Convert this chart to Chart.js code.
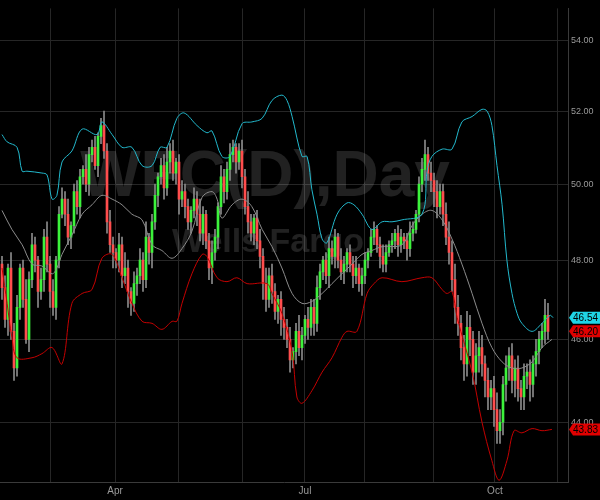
<!DOCTYPE html>
<html><head><meta charset="utf-8">
<script src="https://cdn.jsdelivr.net/npm/chart.js@4"></script>
<style>html,body{margin:0;padding:0;background:#000}#w{width:600px;height:500px}</style>
</head><body><div id="w"><canvas id="c" width="600" height="500"></canvas></div>
<script>
// Daily candles (trading-day index 0..182)
const opens = [
47.9,47.3,46.5,47.8,46.2, 45.3,46.8,47.8,47.0,46.0, 47.5,48.4,48.0,47.2,47.5, 48.6,47.9,47.2,46.8,48.0,
49.2,49.6,49.2,48.6,48.9, 49.8,49.4,50.2,50.4,50.0, 50.8,51.0,50.5,51.3,51.6, 50.9,49.0,48.4,48.2,48.0,
48.4,47.6,47.8,47.2,46.9, 47.4,47.6,48.0,47.5,48.6, 48.2,49.0,49.7,50.2,50.5, 49.9,50.6,50.9,50.3,50.6,
49.6,49.8,49.4,49.0,49.3, 49.6,49.2,48.7,49.2,48.5, 47.8,48.2,48.6,49.4,50.2, 49.8,50.4,50.8,51.0,50.6,
50.9,50.2,49.4,49.0,48.7, 49.1,48.5,48.1,47.4,47.0, 47.6,47.2,46.7,47.0,46.5, 46.3,46.0,45.5,45.7,46.2,
45.8,46.1,46.5,46.3,46.8, 46.4,47.3,47.7,48.0,47.6, 48.3,48.1,48.6,48.0,47.7, 47.9,48.2,47.9,47.6,47.8,
47.4,47.6,48.0,48.2,48.6, 48.8,48.4,48.1,47.9,48.2, 48.4,48.5,48.7,48.4,48.6, 48.5,48.3,48.7,48.8,49.2,
50.0,50.4,50.8,50.3,50.1, 49.8,49.4,49.8,49.2,48.6, 48.2,47.5,46.8,46.4,45.8, 45.4,46.3,46.0,45.2,45.6,
45.8,45.4,45.0,44.6,44.8, 44.3,43.8,44.0,44.9,45.3, 45.6,45.0,45.3,44.8,44.6, 45.1,45.2,44.9,45.4,45.7,
46.0,46.2,46.6];
const closes = [
47.3,46.5,47.8,46.2,45.3, 46.8,47.8,47.0,46.0,47.5, 48.4,48.0,47.2,47.5,48.6, 47.9,47.2,46.8,48.0,49.2,
49.6,49.2,48.6,48.9,49.8, 49.4,50.2,50.4,50.0,50.8, 51.0,50.5,51.3,51.6,50.9, 49.0,48.4,48.2,48.0,48.4,
47.6,47.8,47.2,46.9,47.4, 47.6,48.0,47.5,48.6,48.2, 49.0,49.7,50.2,50.5,49.9, 50.6,50.9,50.3,50.6,49.6,
49.8,49.4,49.0,49.3,49.6, 49.2,48.7,49.2,48.5,47.8, 48.2,48.6,49.4,50.2,49.8, 50.4,50.8,51.0,50.6,50.9,
50.2,49.4,49.0,48.7,49.1, 48.5,48.1,47.4,47.0,47.6, 47.2,46.7,47.0,46.5,46.3, 46.0,45.5,45.7,46.2,45.8,
46.1,46.5,46.3,46.8,46.4, 47.3,47.7,48.0,47.6,48.3, 48.1,48.6,48.0,47.7,47.9, 48.2,47.9,47.6,47.8,47.4,
47.6,48.0,48.2,48.6,48.8, 48.4,48.1,47.9,48.2,48.4, 48.5,48.7,48.4,48.6,48.5, 48.3,48.7,48.8,49.2,50.0,
50.4,50.8,50.3,50.1,49.8, 49.4,49.8,49.2,48.6,48.2, 47.5,46.8,46.4,45.8,45.4, 46.3,46.0,45.2,45.6,45.8,
45.4,45.0,44.6,44.8,44.3, 43.8,44.0,44.9,45.3,45.6, 45.0,45.3,44.8,44.6,45.1, 45.2,44.9,45.4,45.7,46.0,
46.2,46.6,46.2];
const wickHi = [
.2,.3,.1,.4,.2, .3,.1,.2,.5,.2, .3,.2,.1,.3,.2, .4,.2,.3,.1,.2, .3,.2,.4,.1,.2, .3,.2,.1,.4,.2,
.2,.3,.1,.2,.4, .2,.3,.2,.1,.3, .2,.4,.2,.1,.3, .2,.3,.2,.4,.1, .2,.3,.1,.2,.3, .4,.2,.3,.1,.2,
.3,.2,.2,.1,.3, .2,.4,.2,.1,.2, .3,.2,.1,.3,.2, .2,.3,.2,.1,.2, .3,.2,.4,.2,.1, .2,.3,.2,.4,.2,
.3,.2,.1,.2,.3, .2,.3,.1,.2,.4, .2,.1,.3,.2,.2, .3,.2,.1,.2,.3, .2,.2,.1,.3,.2, .1,.2,.2,.3,.1,
.2,.2,.1,.2,.2, .1,.2,.3,.2,.1, .2,.1,.2,.2,.1, .2,.3,.2,.1,.2, .3,.4,.2,.3,.2, .3,.2,.2,.3,.4,
.3,.4,.3,.2,.3, .4,.3,.2,.3,.4, .3,.2,.3,.2,.3, .4,.3,.2,.3,.2, .3,.2,.3,.2,.3, .2,.3,.2,.3,.2,
.2,.4,.3];
const wickLo = [
.3,.2,.4,.2,.3, .2,.3,.2,.1,.3, .2,.3,.4,.2,.3, .2,.4,.2,.3,.2, .1,.3,.2,.3,.2, .2,.3,.2,.2,.3,
.2,.1,.3,.2,.2, .3,.2,.4,.2,.3, .3,.2,.4,.3,.2, .3,.2,.3,.2,.3, .4,.2,.3,.2,.3, .2,.3,.2,.3,.4,
.2,.3,.2,.3,.2, .3,.2,.3,.2,.3, .4,.2,.3,.2,.3, .2,.3,.2,.3,.2, .3,.2,.3,.2,.3, .2,.3,.4,.3,.2,
.3,.2,.3,.4,.3, .2,.3,.2,.3,.2, .3,.2,.3,.2,.3, .2,.3,.2,.2,.3, .2,.3,.2,.2,.3, .2,.2,.3,.2,.2,
.3,.2,.2,.1,.2, .2,.3,.2,.2,.1, .2,.2,.3,.2,.2, .3,.2,.2,.1,.2, .2,.3,.2,.3,.4, .3,.2,.3,.2,.3,
.3,.4,.3,.3,.4, .3,.4,.3,.3,.4, .3,.4,.3,.3,.4, .3,.3,.3,.4,.3, .3,.4,.3,.3,.3, .3,.4,.3,.3,.3,
.2,.3,.2];
// Bollinger bands (day index, price)
const upperDays = [0,1.7,5,6.7,8.3,13.3,15,16.7,18.3,20,23.3,26.7,31.7,33.3,36.7,40,43.3,46.7,50,52.7,55,58.3,60.7,65,68.3,70,73.3,76,80,83.3,86.7,90,93.3,95,96.7,100,101.7,103.3,105,106.7,108.3,111.7,115,117.3,120,123.3,126.7,130,133.3,140,141.7,143.3,146.7,150,153.3,156.7,160,161.7,163.3,165,166.7,168.3,170,171.7,173.3,176.7,180,182.7,183.7];
const upperVals = [51.35,51.15,51.0,50.35,50.35,50.3,50.25,49.6,49.7,50.6,50.9,51.5,51.35,51.7,51.35,51.0,51.0,50.5,50.5,51.0,51.0,51.8,51.95,51.6,51.4,51.45,50.75,50.75,51.65,51.7,51.8,52.3,52.45,52.3,51.85,50.75,50.75,49.85,49.2,48.55,48.45,49.2,49.5,49.45,49.2,48.8,49.0,49.0,49.05,49.2,50.35,50.75,50.95,50.95,51.7,51.85,52.05,52.0,51.6,50.5,49.45,48.0,47.15,46.65,46.4,46.2,46.4,46.6,46.54];
const lowerDays = [0,1.7,3.3,5,10,13.3,16.7,20,23.3,26.7,30,33.3,36.7,40,43.3,46.7,50,53.3,56.7,58.3,60,63.3,66.7,68.3,71.7,75,78.3,81.7,88.3,90,93.3,96.7,98.3,100,103.3,106.7,110,113.3,115,118.3,121.7,124,126.7,133.3,140,143.3,146.7,148.3,150,151.7,156.7,160,163.3,165.7,168.3,170.7,173.3,176.7,180,183.3];
const lowerVals = [47.8,46.9,46.05,45.55,45.55,45.65,45.8,45.4,46.9,47.15,47.25,48.05,48.15,47.55,46.9,46.45,46.4,46.25,46.45,46.45,46.9,47.65,48.15,48.1,47.55,47.45,47.55,47.4,47.4,47.15,46.65,45.7,44.6,44.45,44.75,45.2,45.55,46.05,46.2,46.2,47.15,47.4,47.55,47.45,47.55,47.55,47.25,47.15,47.2,46.55,45.2,44.0,43.1,42.65,43.1,43.8,43.75,43.85,43.8,43.83];
const midDays = [0,3.3,6.7,10,13.3,16.7,18.3,20,23.3,26.7,30,33.3,36.7,40,43.3,46.7,50,53.3,56.7,60,63.3,66.7,70,71.7,73.3,76.7,80,83.3,86.7,90,93.3,96.7,100,103.3,106.7,110,113.3,116.7,120,123.3,126.7,133.3,136.7,140,143.3,146.7,150,153.3,156.7,160,163.3,166.7,170,173.3,176.7,180,183.3];
const midVals = [49.3,48.8,48.4,47.9,47.85,47.65,47.8,48.15,48.65,49.2,49.45,49.7,49.6,49.45,49.2,49.05,48.4,48.25,48.05,48.3,48.75,49.65,49.8,49.6,49.1,49.45,49.6,49.4,48.8,48.35,47.8,47.15,46.9,46.95,47.15,47.4,47.65,47.9,48.15,48.25,48.35,48.4,48.9,49.2,49.3,49.05,48.55,47.9,47.15,46.4,45.8,45.45,45.3,45.3,45.45,45.8,46.0];
const priceTicks = [44,46,48,50,52,54];
const monthTickDays = [16,37.7,58.7,80.3,101,121,143.7,164.3,185.3];
const monthTickLabels = ['','Apr','','','Jul','','','Oct',''];
const tags = [{v:46.54,bg:'#1fd5e6'},{v:46.20,bg:'#e00000'},{v:43.83,bg:'#e00000'}];

const GREEN='#3cf23c', RED='#ff4d4d';
const bodies=[], wicks=[], colors=[];
for(let i=0;i<closes.length;i++){
  const o=opens[i], c=closes[i];
  const hi=Math.max(o,c), lo=Math.min(o,c);
  bodies.push({x:i,y:[lo, hi===lo?hi+0.02:hi]});
  wicks.push({x:i,y:[lo-wickLo[i], hi+wickHi[i]]});
  colors.push(c>=o?GREEN:RED);
}
const toPts=(d,v)=>d.map((x,k)=>({x:x,y:v[k]}));

const watermark={id:'wm',beforeDatasetsDraw(ch){
  const ctx=ch.ctx;ctx.save();ctx.fillStyle='rgba(255,255,255,0.13)';ctx.textAlign='center';ctx.textBaseline='middle';
  ctx.font='bold 64px "Liberation Sans", Arial, sans-serif';ctx.fillText('WFC(D),Day',265,178);
  ctx.font='bold 34px "Liberation Sans", Arial, sans-serif';ctx.fillText('Wells Fargo',268,243);
  ctx.restore();}};
const tagPlugin={id:'tags',afterDraw(ch){
  const ctx=ch.ctx, ys=ch.scales.y, x0=ch.chartArea.right+1;ctx.save();
  ctx.font='10px "Liberation Sans", Arial, sans-serif';ctx.textBaseline='middle';
  tags.forEach(t=>{const y=ys.getPixelForValue(t.v);
    ctx.fillStyle=t.bg;ctx.beginPath();ctx.moveTo(x0,y);ctx.lineTo(x0+4,y-6);ctx.lineTo(600,y-6);ctx.lineTo(600,y+6);ctx.lineTo(x0+4,y+6);ctx.closePath();ctx.fill();
    ctx.fillStyle='#000';ctx.textAlign='left';ctx.fillText(t.v.toFixed(2),x0+4,y+1);});
  ctx.restore();}};

new Chart(document.getElementById('c'),{
  data:{datasets:[
    {type:'bar',data:wicks,backgroundColor:'#8a8a8a',barThickness:1,grouped:false,order:3},
    {type:'bar',data:bodies,backgroundColor:colors,barThickness:2,grouped:false,order:2},
    {type:'line',data:toPts(upperDays,upperVals),borderColor:'#22b8cc',borderWidth:1,pointRadius:0,tension:0.35,order:1},
    {type:'line',data:toPts(midDays,midVals),borderColor:'#8c8c8c',borderWidth:1,pointRadius:0,tension:0.35,order:1},
    {type:'line',data:toPts(lowerDays,lowerVals),borderColor:'#c40000',borderWidth:1,pointRadius:0,tension:0.35,order:1}
  ]},
  options:{responsive:false,animation:false,devicePixelRatio:1,
    layout:{padding:0},
    plugins:{legend:{display:false},tooltip:{enabled:false}},
    scales:{
      x:{type:'linear',min:-0.67,max:188.67,offset:false,
        afterBuildTicks(s){s.ticks=monthTickDays.map(v=>({value:v}));},
        afterFit(s){s.height=18;},
        ticks:{autoSkip:false,maxRotation:0,color:'#9a9a9a',font:{size:10,family:'"Liberation Sans", Arial'},padding:3,
          callback:(v,i)=>monthTickLabels[i]},
        grid:{color:'#262626',drawTicks:false,offset:false},border:{color:'#3a3a3a'}},
      y:{type:'logarithmic',position:'right',min:42.61,max:54.95,
        afterBuildTicks(s){s.ticks=priceTicks.map(v=>({value:v}));},
        afterFit(s){s.width=32;},
        ticks:{color:'#9a9a9a',font:{size:9,family:'"Liberation Sans", Arial'},padding:3,callback:v=>Number(v).toFixed(2)},
        grid:{color:'#262626',drawTicks:false},border:{color:'#3a3a3a'}}
    }},
  plugins:[watermark,tagPlugin]
});
</script></body></html>
